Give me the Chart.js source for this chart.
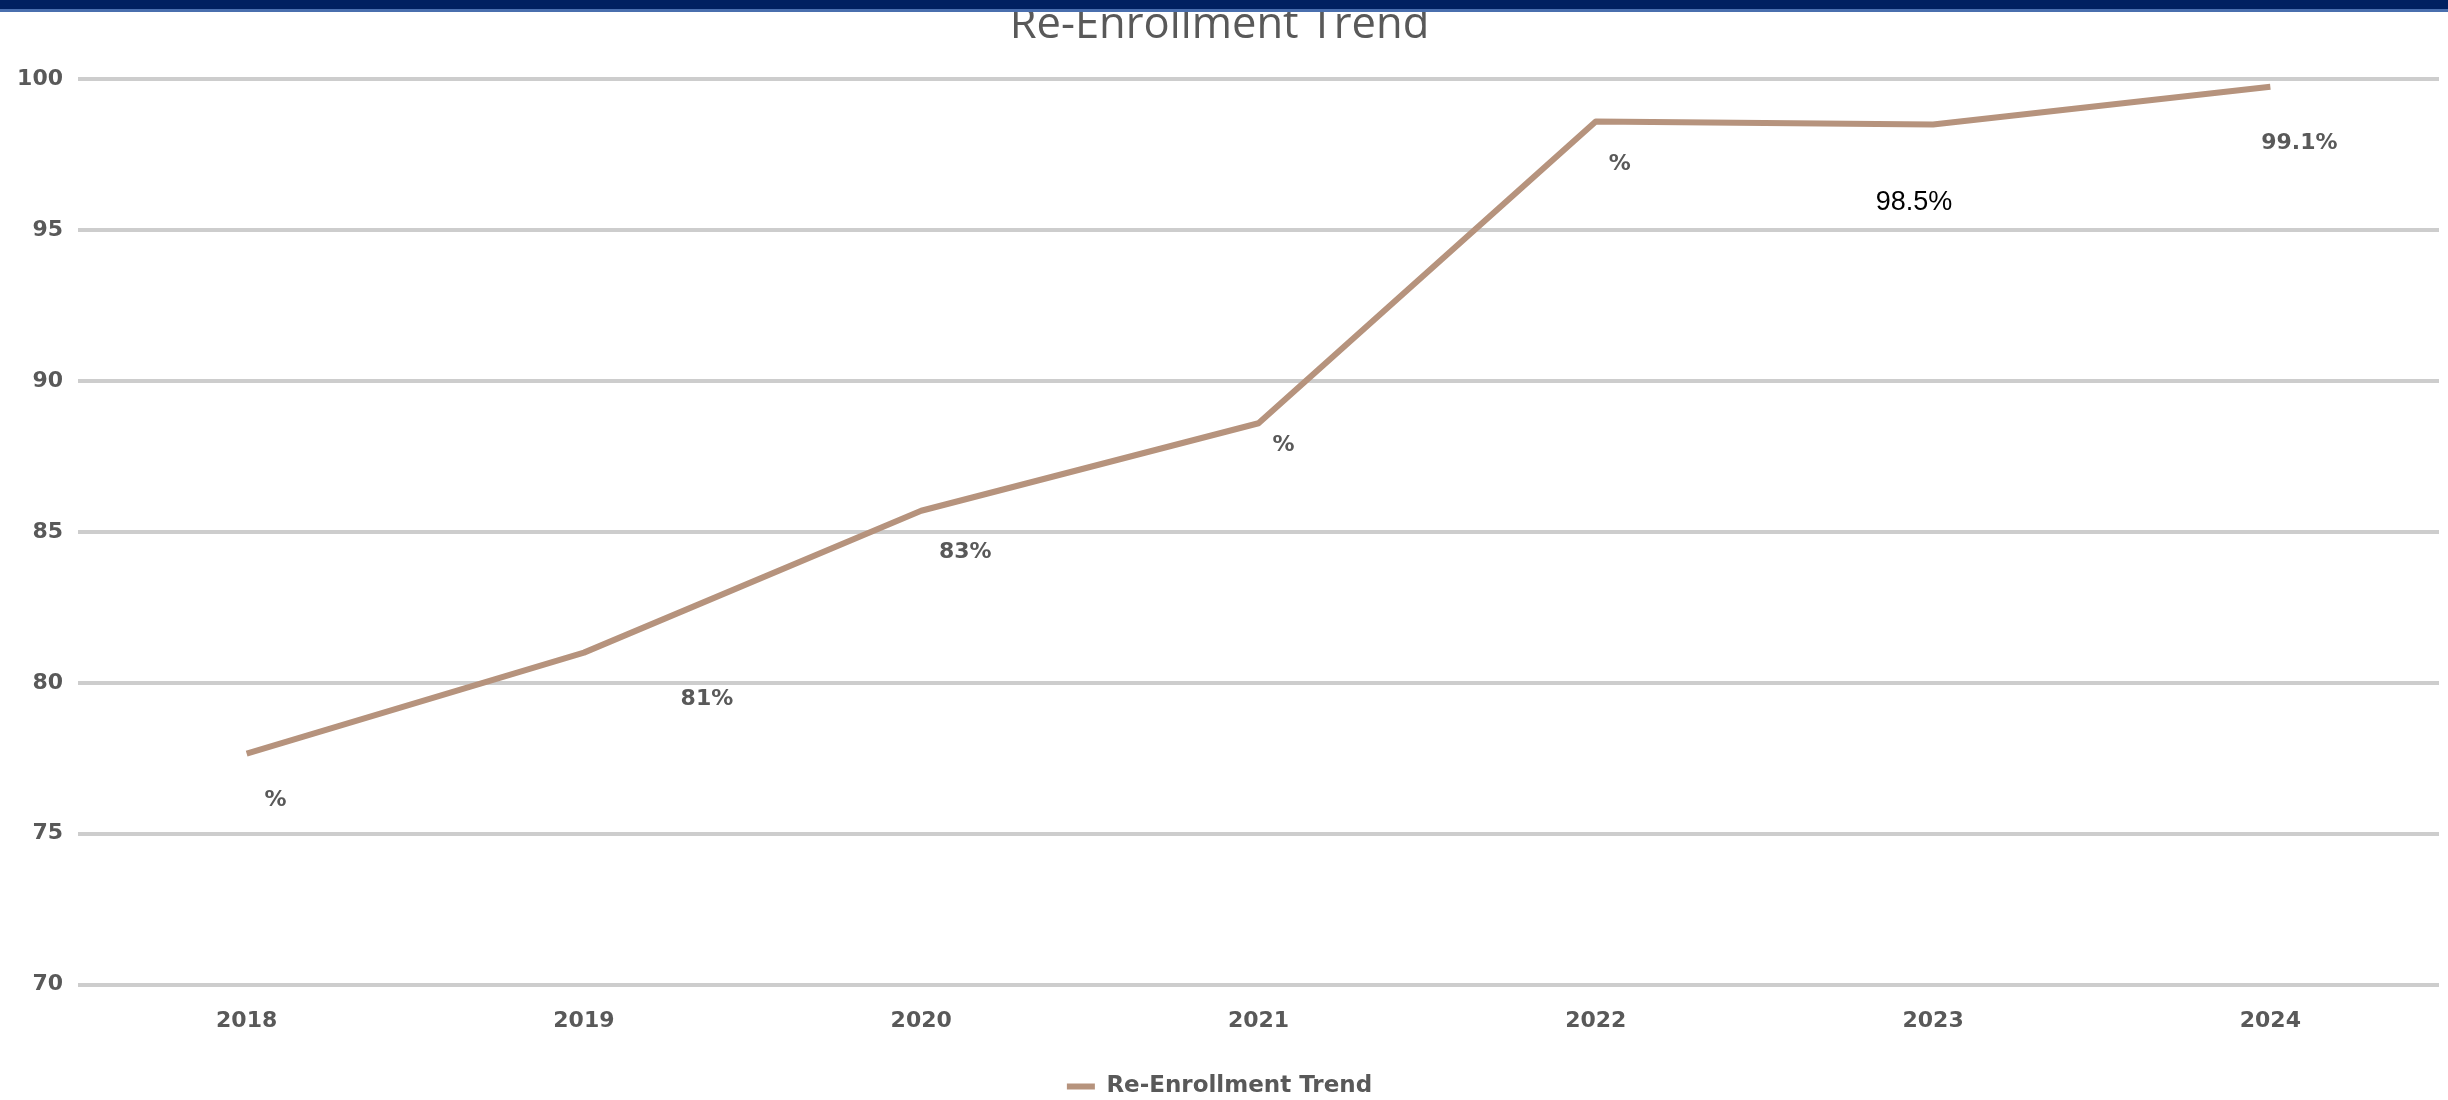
<!DOCTYPE html>
<html><head><meta charset="utf-8">
<script src="https://cdn.jsdelivr.net/npm/chart.js@4.4.1/dist/chart.umd.min.js"></script>
<style>
html,body{margin:0;padding:0;background:#fff;overflow:hidden;}
#wrap{position:relative;width:2448px;height:1100px;}
#bar{position:absolute;left:0;top:0;width:2448px;height:9px;background:#002060;border-bottom:3px solid #4a6fae;z-index:2;}
canvas{position:absolute;left:0;top:0;}
</style></head><body>
<div id="wrap"><canvas id="c" width="2448" height="1100"></canvas><div id="bar"></div></div>
<script>
// ---- data ----
const years = ['2018', '2019', '2020', '2021', '2022', '2023', '2024'];
const rates = [77.65, 81.0, 85.7, 88.6, 98.6, 98.5, 99.75];
const dataLabels = ['%', '81%', '83%', '%', '%', '98.5%', '99.1%'];
const yTicks = [70, 75, 80, 85, 90, 95, 100];
const titleText = 'Re-Enrollment Trend';
const seriesName = 'Re-Enrollment Trend';

// ---- label styling (pixel offsets from each point) ----
const labelOffsets = [[29, 47], [123, 47], [44, 42], [25, 22], [24, 43], [-19, 78], [29, 57]];
const labelFontGray = 'bold 22px "DejaVu Sans"';
const labelFontBlack = '27px "Liberation Sans"';

const gray = '#595959';
const lineColor = '#b6937d';

const labelPlugin = {
  id: 'pointLabels',
  afterLayout(chart) {
    if (chart.legend) { chart.legend.top += 8; chart.legend.bottom += 8; }
  },
  afterDatasetsDraw(chart) {
    const meta = chart.getDatasetMeta(0);
    const ctx = chart.ctx;
    ctx.save();
    ctx.textAlign = 'center';
    ctx.textBaseline = 'middle';
    meta.data.forEach((pt, i) => {
      const [dx, dy] = labelOffsets[i];
      const special = dataLabels[i] === '98.5%';
      ctx.font = special ? labelFontBlack : labelFontGray;
      ctx.fillStyle = special ? '#000000' : gray;
      ctx.fillText(dataLabels[i], pt.x + dx, pt.y + dy);
    });
    ctx.restore();
  }
};

new Chart(document.getElementById('c'), {
  type: 'line',
  data: {
    labels: years,
    datasets: [{
      label: seriesName,
      data: rates,
      borderColor: lineColor,
      backgroundColor: lineColor,
      borderWidth: 6,
      tension: 0,
      pointRadius: 0,
      fill: false,
      borderJoinStyle: 'round'
    }]
  },
  options: {
    responsive: false,
    animation: false,
    devicePixelRatio: 1,
    layout: { padding: { left: 0, right: 9, top: 0, bottom: 0 } },
    plugins: {
      tooltip: { enabled: false },
      title: {
        display: true,
        text: titleText,
        color: gray,
        font: { family: '"Open Sans"', size: 43.5, weight: 'normal', lineHeight: 1.2 },
        padding: { top: 0, bottom: 27 }
      },
      legend: {
        position: 'bottom',
        labels: {
          usePointStyle: true,
          pointStyle: 'line',
          pointStyleWidth: 28,
          color: gray,
          font: { family: '"DejaVu Sans"', size: 23, weight: 'bold' },
          padding: 10
        }
      }
    },
    scales: {
      x: {
        type: 'category',
        offset: true,
        afterFit(scale) { scale.height += 8; },
        grid: { display: false },
        border: { display: false },
        ticks: {
          color: gray,
          font: { family: '"DejaVu Sans"', size: 22, weight: 'bold' },
          padding: 15,
          maxRotation: 0
        }
      },
      y: {
        min: 70,
        max: 100,
        afterBuildTicks(scale) { scale.ticks = yTicks.map(v => ({ value: v })); },
        afterFit(scale) { scale.width = 78; },
        grid: { color: '#cdcdcd', lineWidth: 4, drawTicks: false },
        border: { display: false },
        ticks: {
          color: gray,
          font: { family: '"DejaVu Sans"', size: 22, weight: 'bold' },
          padding: 15
        }
      }
    }
  },
  plugins: [labelPlugin]
});
</script>
</body></html>
